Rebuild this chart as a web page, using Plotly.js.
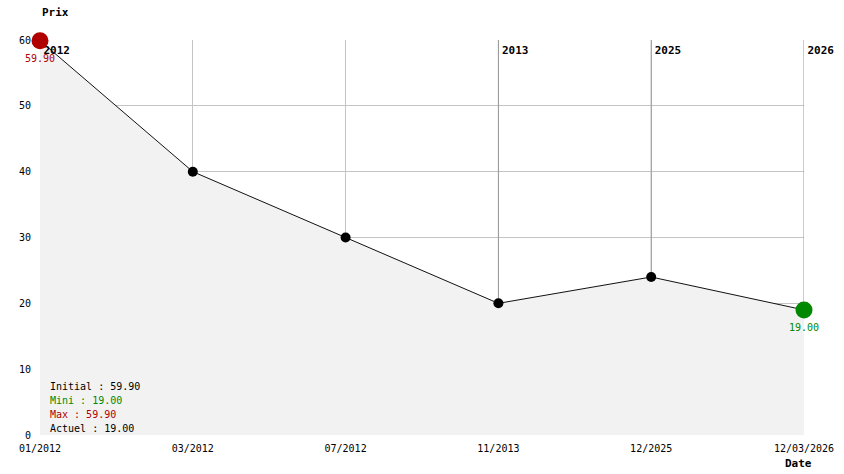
<!DOCTYPE html>
<html>
<head>
<meta charset="utf-8">
<script src="https://cdn.plot.ly/plotly-3.0.1.min.js"></script>
<style>html,body{margin:0;padding:0;background:#fff;}#chart{width:844px;height:474px;}</style>
</head>
<body>
<div id="chart"></div>
<script>
var dates = ['01/2012', '03/2012', '07/2012', '11/2013', '12/2025', '12/03/2026'];
var prices = [59.90, 40, 30, 20, 24, 19];
var yearDates = ['01/2012', '11/2013', '12/2025', '12/03/2026'];
var yearLabels = ['2012', '2013', '2025', '2026'];
var yTicks = [0, 10, 20, 30, 40, 50, 60];

var MONO = '"DejaVu Sans Mono", "Liberation Mono", monospace';
var RED = '#b00000';
var GREEN = '#008800';

var maxVal = Math.max.apply(null, prices);
var minVal = Math.min.apply(null, prices);
var iMax = prices.indexOf(maxVal);
var iMin = prices.lastIndexOf(minVal);
var initialVal = prices[0];
var currentVal = prices[prices.length - 1];

var lineTrace = {
  x: dates, y: prices, type: 'scatter', mode: 'lines',
  fill: 'tozeroy', fillcolor: '#f2f2f2',
  line: {color: '#111', width: 1},
  hoverinfo: 'skip', showlegend: false
};
var yearTrace = {
  x: yearDates, y: yearDates.map(function(){ return 58.35; }),
  type: 'scatter', mode: 'markers+text', cliponaxis: false,
  text: yearLabels, textposition: 'middle right',
  marker: {size: 4, opacity: 0},
  textfont: {family: MONO, size: 11, color: '#000', weight: 'bold'},
  hoverinfo: 'skip', showlegend: false
};
var normX = [], normY = [];
for (var i = 0; i < dates.length; i++) {
  if (i !== iMax && i !== iMin) { normX.push(dates[i]); normY.push(prices[i]); }
}
var normTrace = {
  x: normX, y: normY, type: 'scatter', mode: 'markers', cliponaxis: false,
  marker: {color: '#000', size: 10},
  hoverinfo: 'skip', showlegend: false
};
var extremeTrace = {
  x: [dates[iMax], dates[iMin]], y: [prices[iMax], prices[iMin]],
  type: 'scatter', mode: 'markers', cliponaxis: false,
  marker: {color: [RED, GREEN], size: 17},
  hoverinfo: 'skip', showlegend: false
};

var shapes = yearDates.map(function(d){
  return {type: 'line', xref: 'x', yref: 'y', x0: d, x1: d,
    y0: prices[dates.indexOf(d)], y1: 60, layer: 'between',
    line: {color: '#999', width: 1}};
});

var annotations = [
  {xref: 'paper', yref: 'paper', x: 0, y: 1, xanchor: 'left', yanchor: 'middle', yshift: 28,
   text: '<b>Prix</b>', showarrow: false, font: {family: MONO, size: 11, color: '#000'}},
  {xref: 'paper', yref: 'paper', x: 1, y: 0, xanchor: 'left', yanchor: 'middle', xshift: -21, yshift: -28,
   text: '<b>Date</b>', showarrow: false, font: {family: MONO, size: 11, color: '#000'}},
  {xref: 'x', yref: 'y', x: dates[iMax], y: prices[iMax], yshift: -18, yanchor: 'middle',
   text: maxVal.toFixed(2), showarrow: false, font: {family: MONO, size: 10, color: RED}},
  {xref: 'x', yref: 'y', x: dates[iMin], y: prices[iMin], yshift: -18, yanchor: 'middle',
   text: minVal.toFixed(2), showarrow: false, font: {family: MONO, size: 10, color: GREEN}}
];
var infoLines = [
  ['Initial : ' + initialVal.toFixed(2), '#000'],
  ['Mini : ' + minVal.toFixed(2), GREEN],
  ['Max : ' + maxVal.toFixed(2), RED],
  ['Actuel : ' + currentVal.toFixed(2), '#000']
];
infoLines.forEach(function(l, k){
  annotations.push({xref: 'paper', yref: 'paper', x: 0, y: 0, xanchor: 'left', yanchor: 'middle',
    xshift: 8, yshift: 49 - 14 * k, text: l[0], showarrow: false,
    font: {family: MONO, size: 10, color: l[1]}});
});

var layout = {
  width: 844, height: 474,
  margin: {l: 40, r: 40, t: 40, b: 39, pad: 0},
  paper_bgcolor: '#fff', plot_bgcolor: '#fff',
  showlegend: false,
  font: {family: MONO, size: 10, color: '#000'},
  xaxis: {type: 'category', categoryorder: 'array', categoryarray: dates,
    range: [0, dates.length - 1], showgrid: true, gridcolor: '#c4c4c4', gridwidth: 1,
    zeroline: false, showline: false, ticks: '', ticklabelstandoff: 6,
    tickfont: {family: MONO, size: 10, color: '#000'}, fixedrange: true},
  yaxis: {range: [0, 60], tickvals: yTicks, ticktext: yTicks.map(String),
    showgrid: true, gridcolor: '#c4c4c4', gridwidth: 1, zeroline: false, showline: false,
    ticks: '', ticklabelstandoff: 8, tickfont: {family: MONO, size: 10, color: '#000'}, fixedrange: true},
  shapes: shapes,
  annotations: annotations
};

Plotly.newPlot('chart', [lineTrace, yearTrace, normTrace, extremeTrace], layout, {displayModeBar: false, staticPlot: true});
</script>
</body>
</html>
